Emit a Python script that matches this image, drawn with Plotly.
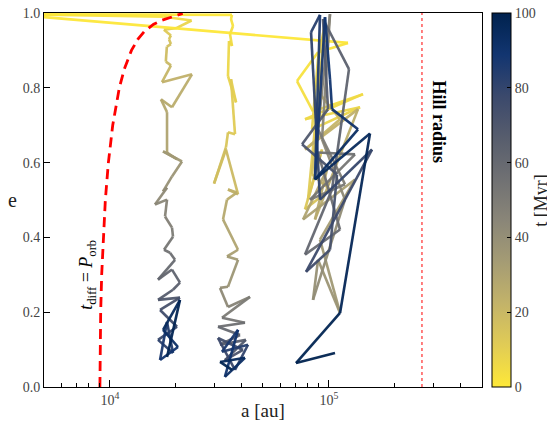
import plotly.graph_objects as go
from plotly.colors import sample_colorscale
import plotly.express as px

# ---------------- data ----------------
# trajectory 1 (inner)
a1 = [3460, 17640, 23600, 20200, 17640, 19000, 18600, 19000, 18200, 18000, 19000,
      17290, 23700, 19210, 17100, 18230, 18230, 20250, 17480, 21340, 19210, 17480,
      18230, 16060, 18230, 17850, 19210, 19410, 17660, 18810, 19830, 16580, 19210,
      20890, 19410, 16580, 20890, 16940, 20250, 16580, 19410, 18230, 16940, 20460,
      17480, 20890, 18230]
e1 = [0.997, 0.990, 0.980, 0.960, 0.955, 0.940, 0.930, 0.917, 0.910, 0.870, 0.860,
      0.815, 0.836, 0.748, 0.769, 0.735, 0.627, 0.609, 0.630, 0.603, 0.563, 0.523,
      0.533, 0.488, 0.501, 0.456, 0.426, 0.402, 0.367, 0.359, 0.340, 0.287, 0.314,
      0.279, 0.260, 0.233, 0.239, 0.206, 0.161, 0.126, 0.091, 0.174, 0.072, 0.107,
      0.153, 0.233, 0.080]
t1 = [0, 3, 6, 9, 11, 13, 15, 16, 17, 19, 20,
      22, 24, 26, 27, 28, 31, 33, 34, 36, 38, 40,
      41, 43, 45, 47, 49, 51, 54, 56, 58, 60, 62,
      64, 66, 68, 71, 74, 77, 80, 83, 85, 88, 91,
      94, 96, 100]

# trajectory 2 (middle)
a2 = [3460, 36100, 35700, 36500, 35340, 36100, 34970, 34600, 37650, 35700, 37260,
      34600, 33880, 29880, 33880, 38460, 34600, 38040, 34240, 32840, 38460, 34240,
      38460, 34600, 31820, 34600, 43620, 32490, 41390, 31150, 39260, 31820, 41780,
      33500, 40520, 31150, 37240, 42720, 32490, 38460, 33500, 41390, 31820, 36100]
e2 = [0.997, 0.995, 0.984, 0.965, 0.944, 0.912, 0.925, 0.831, 0.761, 0.823, 0.676,
      0.681, 0.641, 0.544, 0.635, 0.515, 0.528, 0.520, 0.501, 0.448, 0.367, 0.349,
      0.340, 0.268, 0.265, 0.214, 0.241, 0.185, 0.172, 0.161, 0.139, 0.113, 0.126,
      0.072, 0.099, 0.131, 0.046, 0.113, 0.094, 0.153, 0.027, 0.078, 0.067, 0.046]
t2 = [0, 1, 2, 3, 4, 5, 6, 7, 9, 10, 12,
      13, 15, 17, 18, 20, 22, 24, 26, 28, 30, 33,
      35, 38, 41, 44, 48, 52, 55, 58, 61, 64, 67,
      70, 73, 76, 79, 82, 85, 88, 91, 94, 97, 100]

# trajectory 3 (outer)
a3 = [3460, 122200, 89160, 71500, 84600, 143100, 77780, 138700, 83730, 89160, 95960,
      80290, 92980, 77780, 101150, 83730, 91060, 112400, 77780, 135800, 86390,
      97990, 76170, 131600, 91060, 112400, 89160, 84600, 118400, 92980, 101150,
      89160, 118400, 81990, 131600, 89160, 112400, 77780, 103300, 123500, 93970,
      99040, 75370, 108900, 101150, 78600, 157300, 91060, 82860, 91060, 86390,
      95960, 101150, 103300, 135800, 86390, 154000, 112400, 70750, 106600]
e3 = [0.997, 0.920, 0.895, 0.818, 0.737, 0.783, 0.716, 0.748, 0.689, 0.877, 0.971,
      0.501, 0.635, 0.475, 0.528, 0.568, 0.783, 0.716, 0.635, 0.743, 0.448,
      0.582, 0.448, 0.555, 0.394, 0.198, 0.340, 0.233, 0.501, 0.662, 0.997,
      0.689, 0.542, 0.501, 0.622, 0.627, 0.421, 0.354, 0.528, 0.850, 0.984,
      0.743, 0.649, 0.568, 0.367, 0.308, 0.635, 0.501, 0.949, 0.995, 0.555,
      0.989, 0.823, 0.743, 0.689, 0.555, 0.678, 0.198, 0.064, 0.091]
t3 = [0, 1, 2, 3, 4, 5, 6, 7, 8, 9, 10,
      12, 13, 14, 15, 16, 18, 20, 22, 24, 26,
      28, 30, 32, 34, 36, 38, 40, 42, 44, 46,
      48, 50, 52, 54, 56, 58, 60, 62, 64, 66,
      68, 70, 72, 74, 76, 78, 80, 82, 84, 86,
      88, 89, 90, 92, 94, 96, 98, 99, 100]

# t_diff = P_orb curve
curve_e = [0.0, 0.1, 0.2, 0.3, 0.4, 0.5, 0.6, 0.7, 0.8, 0.85, 0.9, 0.93, 0.95,
           0.97, 0.98, 0.99, 0.995, 0.999]
curve_a = [9000, 9018, 9074, 9170, 9320, 9530, 9840, 10300, 11040, 11630, 12540,
           13430, 14340, 15840, 17160, 19300, 20500, 21500]

hill_radius = 266000
t_ticks = [0, 20, 40, 60, 80, 100]
y_ticks = [0.0, 0.2, 0.4, 0.6, 0.8, 1.0]
x_major = [1e4, 1e5]
x_major_text = ["10<sup>4</sup>", "10<sup>5</sup>"]
x_minor = [6000, 7000, 8000, 9000, 20000, 30000, 40000, 50000, 60000, 70000,
           80000, 90000, 200000, 300000, 400000]

# ---------------- figure ----------------
cscale = px.colors.sequential.Cividis_r
FONT = "Liberation Serif"
fig = go.Figure()

for a, e, t in [(a1, e1, t1), (a2, e2, t2), (a3, e3, t3)]:
    for i in range(len(a) - 1):
        tm = 0.5 * (t[i] + t[i + 1]) / 100.0
        col = sample_colorscale(cscale, [tm])[0]
        fig.add_trace(go.Scatter(x=[a[i], a[i + 1]], y=[e[i], e[i + 1]], mode="lines",
                                 line=dict(color=col, width=2.6), opacity=0.95,
                                 showlegend=False, hoverinfo="skip"))

fig.add_trace(go.Scatter(x=curve_a, y=curve_e, mode="lines",
                         line=dict(color="red", width=2.8, dash="10px,6px"),
                         showlegend=False, hoverinfo="skip"))

fig.add_trace(go.Scatter(x=[hill_radius, hill_radius], y=[0, 1], mode="lines",
                         line=dict(color="red", width=1, dash="dot"),
                         showlegend=False, hoverinfo="skip"))

# colorbar carrier
fig.add_trace(go.Scatter(x=[None], y=[None], mode="markers",
                         marker=dict(color=[0, 100], colorscale=cscale, cmin=0, cmax=100,
                                     showscale=True, size=0,
                                     colorbar=dict(
                                         x=1.0228, xanchor="left", xpad=0,
                                         y=0.5, yanchor="middle", len=1.0, ypad=0,
                                         thickness=19, outlinewidth=1, outlinecolor="black",
                                         tickvals=t_ticks, ticks="inside", ticklen=4,
                                         tickcolor="black", ticklabeloverflow="allow",
                                         tickfont=dict(family=FONT, size=14, color="#444"))),
                         showlegend=False, hoverinfo="skip"))

fig.add_annotation(x=5.5027, y=0.71, xref="x", yref="y", text="<b>Hill radius</b>",
                   textangle=90, showarrow=False,
                   font=dict(family=FONT, size=18, color="black"))
fig.add_annotation(x=3.8999, y=0.30, xref="x", yref="y",
                   text="<i>t</i><sub>diff</sub> = <i>P</i><sub>orb</sub>",
                   textangle=-90, showarrow=False,
                   font=dict(family=FONT, size=18, color="black"))
fig.add_annotation(x=0.5, y=-0.062, xref="paper", yref="paper", yanchor="middle",
                   text="a [au]", showarrow=False,
                   font=dict(family=FONT, size=19, color="#222"))
fig.add_annotation(x=-0.073, y=0.5, xref="paper", yref="paper", xanchor="center",
                   text="e", showarrow=False,
                   font=dict(family=FONT, size=20, color="#222"))
fig.add_annotation(x=1.134, y=0.5, xref="paper", yref="paper", xanchor="center",
                   yanchor="middle", text="t [Myr]", textangle=-90, showarrow=False,
                   font=dict(family=FONT, size=18, color="#222"))

fig.update_xaxes(type="log", range=[3.699, 5.699], showgrid=False, zeroline=False,
                 showline=True, linecolor="black", linewidth=1, mirror=True,
                 tickvals=x_major, ticktext=x_major_text, ticks="inside", ticklen=7,
                 tickcolor="black", ticklabeloverflow="allow",
                 minor=dict(tickvals=x_minor, ticks="inside", ticklen=4, tickcolor="black",
                            showgrid=False),
                 tickfont=dict(family=FONT, size=14, color="#444"))
fig.update_yaxes(range=[0, 1], showgrid=False, zeroline=False,
                 showline=True, linecolor="black", linewidth=1, mirror=True,
                 tickvals=y_ticks, tickformat=".1f", ticks="inside", ticklen=6,
                 tickcolor="black", ticklabeloverflow="allow",
                 tickfont=dict(family=FONT, size=14, color="#444"))

# the page places the figure 8 px in from the top-left corner
fig.update_layout(width=547, height=416,
                  margin=dict(l=36, r=73, t=5, b=37, autoexpand=False),
                  plot_bgcolor="white", paper_bgcolor="white", showlegend=False)

fig.write_html("out.html")
